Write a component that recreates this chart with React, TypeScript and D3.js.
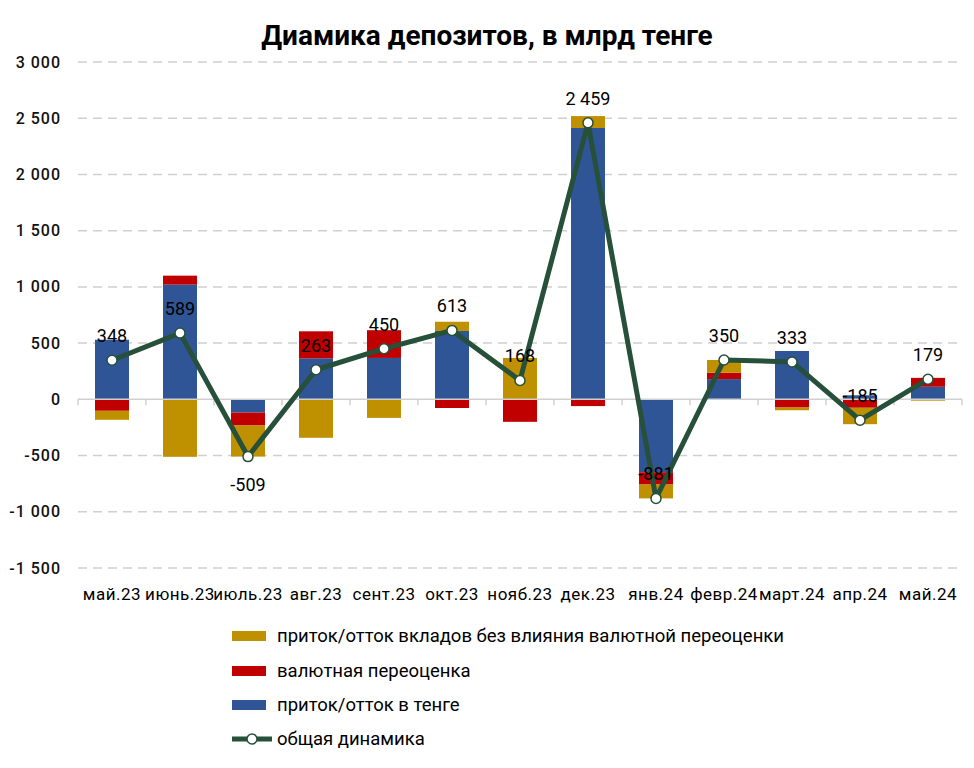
import React from "react";
import * as d3 from "d3";

const categories = ["май.23", "июнь.23", "июль.23", "авг.23", "сент.23", "окт.23", "нояб.23", "дек.23", "янв.24", "февр.24", "март.24", "апр.24", "май.24"];
const tengeFlow = [530, 1020, -118, 365, 368, 608, 3, 2413, -648, 180, 430, 36, 112];
const fxRevaluation = [-102, 80, -115, 240, 247, -77, -200, -60, -110, 57, -73, -75, 79];
const depositFlowNoFx = [-80, -511, -276, -342, -165, 82, 365, 106, -123, 113, -24, -146, -12];
const totalDynamics = [348, 589, -509, 263, 450, 613, 168, 2459, -881, 350, 333, -185, 179];
const yTicks = [-1500, -1000, -500, 0, 500, 1000, 1500, 2000, 2500, 3000];
const labelsBelow = ["июль.23"];

const seriesKeys = ["tenge", "fx", "noFx"];
const seriesNames: Record<string, string> = {
  noFx: "приток/отток вкладов без влияния валютной переоценки",
  fx: "валютная переоценка",
  tenge: "приток/отток в тенге",
};
const colors: Record<string, string> = { tenge: "#2F5597", fx: "#C00000", noFx: "#BF9000" };
const lineColor = "#27503A";
const FONT = "Roboto, 'DejaVu Sans', sans-serif";

const fmt = (v: number) => {
  const s = Math.abs(v).toString().replace(/\B(?=(\d{3})+(?!\d))/g, " ");
  return (v < 0 ? "-" : "") + s;
};

export default function App() {
  const W = 974, H = 768;
  const left = 78, right = 962, top = 62, bottom = 568;
  const x = d3.scaleBand<string>().domain(categories).range([left, right]).paddingInner(0.5).paddingOuter(0.25);
  const y = d3.scaleLinear().domain([-1500, 3000]).range([bottom, top]);
  const step = x.step();

  const rows = categories.map((c, i) => ({ cat: c, tenge: tengeFlow[i], fx: fxRevaluation[i], noFx: depositFlowNoFx[i] }));
  const stacked = d3.stack<any>().keys(seriesKeys).offset(d3.stackOffsetDiverging)(rows);

  const cx = (c: string) => (x(c) as number) + x.bandwidth() / 2;
  const linePath = d3.line<number>().x((_, i) => cx(categories[i])).y((v) => y(v))(totalDynamics) || "";

  const legendX = 232;
  const legendY = [636, 671, 705, 739];
  const legendKeys = ["noFx", "fx", "tenge"];

  return (
    <svg width={W} height={H} style={{ position: "absolute", left: 0, top: 0, background: "#fff" }} fontFamily={FONT}>
      <rect x={0} y={0} width={W} height={H} fill="#fff" />
      <text x={487} y={45} textAnchor="middle" fontSize={28} fontWeight="bold" fill="#000">
        Диамика депозитов, в млрд тенге
      </text>
      {yTicks.map((t) => (
        <g key={t}>
          {t !== 0 && (
            <line x1={left} x2={right} y1={y(t)} y2={y(t)} stroke="#D0D0D0" strokeWidth={1.5} strokeDasharray="9,6" />
          )}
          <text x={61} y={y(t) + 5.5} textAnchor="end" fontSize={16} fontWeight={500} letterSpacing={1} fill="#111">
            {fmt(t)}
          </text>
        </g>
      ))}
      {stacked.map((s) => (
        <g key={s.key} fill={colors[s.key]}>
          {s.map((d, i) => (
            <rect
              key={i}
              x={x(categories[i])}
              width={x.bandwidth()}
              y={y(Math.max(d[0], d[1]))}
              height={Math.abs(y(d[0]) - y(d[1]))}
            />
          ))}
        </g>
      ))}
      <line x1={left} x2={right} y1={y(0)} y2={y(0)} stroke="#D0D0D0" strokeWidth={1.5} />
      {d3.range(categories.length + 1).map((k) => (
        <line key={k} x1={left + k * step} x2={left + k * step} y1={y(0)} y2={y(0) + 6} stroke="#D0D0D0" strokeWidth={1.5} />
      ))}
      <path d={linePath} fill="none" stroke={lineColor} strokeWidth={5} strokeLinejoin="round" />
      {totalDynamics.map((v, i) => (
        <circle key={i} cx={cx(categories[i])} cy={y(v)} r={5} fill="#fff" stroke={lineColor} strokeWidth={1.5} />
      ))}
      {totalDynamics.map((v, i) => {
        const below = labelsBelow.includes(categories[i]);
        return (
          <text key={i} x={cx(categories[i])} y={below ? y(v) + 34 : y(v) - 18} textAnchor="middle" fontSize={18} fill="#000">
            {fmt(v)}
          </text>
        );
      })}
      {categories.map((c) => (
        <text key={c} x={cx(c)} y={600} textAnchor="middle" fontSize={17} letterSpacing={0.5} fill="#000">
          {c}
        </text>
      ))}
      {legendKeys.map((k, i) => (
        <g key={k}>
          <rect x={legendX} y={legendY[i] - 5} width={34} height={10} fill={colors[k]} />
          <text x={legendX + 45} y={legendY[i] + 6} fontSize={18.5} fill="#000">
            {seriesNames[k]}
          </text>
        </g>
      ))}
      <g>
        <line x1={legendX} x2={legendX + 40} y1={legendY[3]} y2={legendY[3]} stroke={lineColor} strokeWidth={5} />
        <circle cx={legendX + 20} cy={legendY[3]} r={5} fill="#fff" stroke={lineColor} strokeWidth={1.5} />
        <text x={legendX + 45} y={legendY[3] + 6} fontSize={18.5} fill="#000">
          общая динамика
        </text>
      </g>
    </svg>
  );
}
